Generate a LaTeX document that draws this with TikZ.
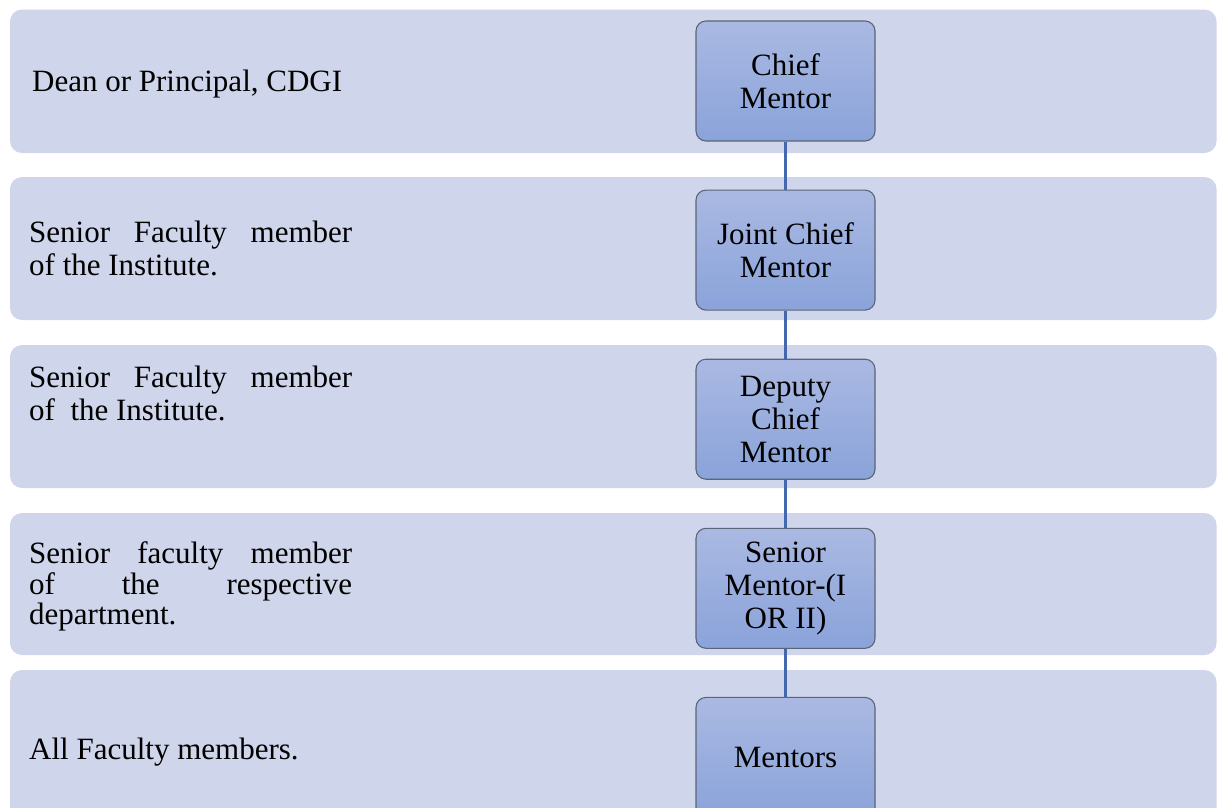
\documentclass[tikz,border=0pt]{standalone}
\usepackage{fontspec}
\setmainfont{Liberation Serif}
\usetikzlibrary{positioning}

\definecolor{bandfill}{HTML}{CFD5EA}
\definecolor{boxtop}{HTML}{AAB9E2}
\definecolor{boxbottom}{HTML}{8AA3DA}
\definecolor{boxline}{HTML}{5A6579}
\definecolor{linkblue}{HTML}{4468AE}

\newcommand{\rolefont}{\fontsize{31}{33}\selectfont}
\newcommand{\tightfont}{\fontsize{31}{30}\selectfont}

\tikzset{
  band/.style={fill=bandfill, rounded corners=12pt},
  rolebox/.style={draw=boxline, line width=1.1pt, rounded corners=10pt,
    top color=boxtop, bottom color=boxbottom, minimum width=179pt,
    minimum height=120pt, align=center, inner sep=0pt, font=\rolefont},
  duty/.style={anchor=north west, inner sep=0pt, text width=323pt,
    align=justify, font=\rolefont},
  link/.style={draw=linkblue, line width=2.4pt}
}

\begin{document}
\begin{tikzpicture}[x=1pt, y=-1pt]
    \useasboundingbox (0,0) rectangle (1217,807);
    \clip (0,0) rectangle (1217,807);

    % background bands
    \path[band] (10,9.5) rectangle (1216.5,153);
    \path[band] (10,177) rectangle (1216.5,320);
    \path[band] (10,345) rectangle (1216.5,488);
    \path[band] (10,513) rectangle (1216.5,655);
    \path[band] (10,670) rectangle (1216.5,830);

    % left descriptions
    \node[duty] (dean-txt) at (32,67.9) {\strut Dean or Principal, CDGI};
    \node[duty] (joint-txt) at (29,218.9)
      {\noindent\strut Senior Faculty member\linebreak of the Institute.};
    \node[duty] (deputy-txt) at (29,363.9)
      {\noindent\strut Senior Faculty member\linebreak of\ \ the Institute.};
    \node[duty, font=\tightfont] (senior-txt) at (29,541)
      {\noindent\strut Senior faculty member\linebreak of the respective\linebreak department.};
    \node[duty] (mentors-txt) at (29,735.9) {\strut All Faculty members.};

    % hierarchy
    \node[rolebox] (chief) at (785.5,81) {Chief\\Mentor};
    \node[rolebox, below=48pt of chief] (joint-chief) {Joint Chief\\Mentor};
    \node[rolebox, below=48pt of joint-chief] (deputy) {Deputy\\Chief\\Mentor};
    \node[rolebox, below=48pt of deputy] (senior) {Senior\\Mentor-(I\\OR II)};
    \node[rolebox, below=48pt of senior] (mentors) {Mentors};

    \draw[link] (chief) -- (joint-chief);
    \draw[link] (joint-chief) -- (deputy);
    \draw[link] (deputy) -- (senior);
    \draw[link] (senior) -- (mentors);
  \end{tikzpicture}
\end{document}
